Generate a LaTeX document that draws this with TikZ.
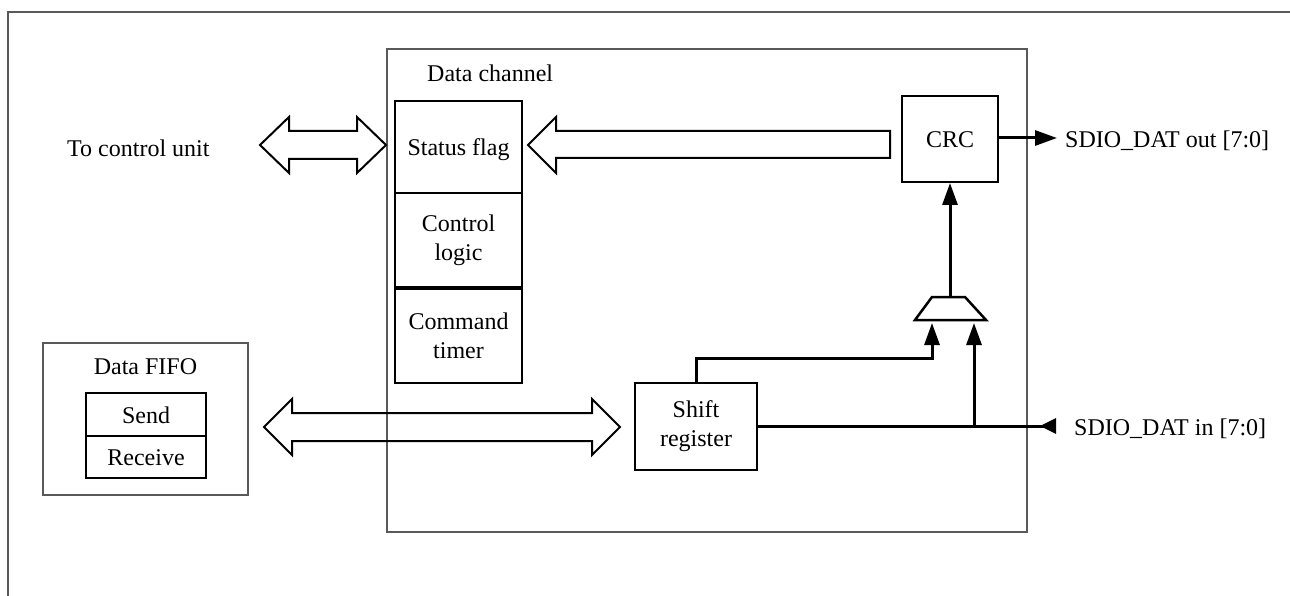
\documentclass[tikz,border=0pt]{standalone}
\usepackage{fontspec}
\setmainfont{Liberation Serif}
\usetikzlibrary{arrows.meta,calc}
\begin{document}
\begin{tikzpicture}[x=1pt,y=-1pt,
  txt/.style={font=\fontsize{24}{29}\selectfont, inner sep=0pt, align=center},
  one/.style={text height=22pt, text depth=5pt},
  blk/.style={draw, line width=2pt, txt, minimum width=#1},
  frameline/.style={draw=black!65, line width=1.3pt},
  sig/.style={draw, line width=3pt},
  tipa/.style={-{Triangle[length=22pt,width=15pt]}},
  tipin/.style={-{Triangle[length=16pt,width=15pt,reversed]}},
  hollow/.style={draw, line width=2pt, line join=miter}
]
\useasboundingbox (0,0) rectangle (1290,596);
% outer frame
\draw[frameline] (8,596) -- (8,12) -- (1290,12);

% data channel
\node[frameline, minimum width=640, minimum height=483, inner sep=0pt] (dc) at (707,290.5) {};
\node[txt, anchor=base west] (dcl) at (427,82) {Data channel};

% stack
\node[blk=127, one, minimum height=92] (sf) at (458.5,147) {Status flag};
\node[blk=127, minimum height=94] (cl) at (458.5,240) {Control\\logic};
\node[blk=127, minimum height=94] (ct) at (458.5,336) {Command\\timer};

% CRC and shift register
\node[blk=96, one, minimum height=86] (crc) at (950,139) {CRC};
\node[blk=122, minimum height=87] (shift) at (696,426.5) {Shift\\register};

% mux
\draw[line width=2.5pt, line join=miter] (932,297) -- (965,297) -- (986,320) -- (915,320) -- cycle;
\coordinate (muxT) at (950,297);
\coordinate (muxL) at (932,323);
\coordinate (muxR) at (974,323);

% left labels
\node[txt, anchor=base west] (tcu) at (67,157) {To control unit};

% data FIFO
\node[frameline, minimum width=205, minimum height=152, inner sep=0pt] (fifo) at (145.5,419) {};
\node[txt, anchor=base] (fifol) at (145.5,374) {Data FIFO};
\node[blk=120, one, minimum height=43] (send) at (146,414.5) {Send};
\node[blk=120, one, minimum height=42] (recv) at (146,457) {Receive};

% right labels
\coordinate (dout) at (1057,138);
\node[txt, anchor=base west] (doutl) at (1065,148) {SDIO\_DAT out [7:0]};
\coordinate (din) at (1056,426);
\node[txt, anchor=base west] (dinl) at (1074,435) {SDIO\_DAT in [7:0]};

% signal connectors
\draw[sig, tipa] (crc.east |- dout) -- (dout);
\draw[sig, tipa] (muxT) -- (crc.south);
\coordinate (bend) at (932,358);
\draw[sig, tipa] (shift.north) |- (bend) -- (muxL);
\coordinate (junc) at (974,426);
\draw[sig, tipin] (shift.east |- junc) -- (din);
\draw[sig, tipa] (junc) -- (muxR);

% hollow double arrow: control unit <-> status flag
\coordinate (tA) at (260,145);
\coordinate (tB) at (386,145);
\draw[hollow] (tA) -- ++(29,-28) -- ++(0,14) -- ($(tB)+(-29,-14)$) -- ++(0,-14) -- (tB)
  -- ++(-29,28) -- ++(0,-14) -- ($(tA)+(29,14)$) -- ++(0,14) -- cycle;

% hollow double arrow: FIFO <-> shift register
\coordinate (fA) at (264,427);
\coordinate (fB) at (620,427);
\draw[hollow] (fA) -- ++(28,-28) -- ++(0,14) -- ($(fB)+(-28,-14)$) -- ++(0,-14) -- (fB)
  -- ++(-28,28) -- ++(0,-14) -- ($(fA)+(28,14)$) -- ++(0,14) -- cycle;

% hollow arrow: CRC -> status flag
\coordinate (sA) at (528,145);
\coordinate (sB) at (890,145);
\draw[hollow] (sA) -- ++(28,-28) -- ++(0,14) -- ($(sB)+(0,-14)$) -- ($(sB)+(0,13)$)
  -- ($(sA)+(28,13)$) -- ++(0,15) -- cycle;
\end{tikzpicture}
\end{document}
